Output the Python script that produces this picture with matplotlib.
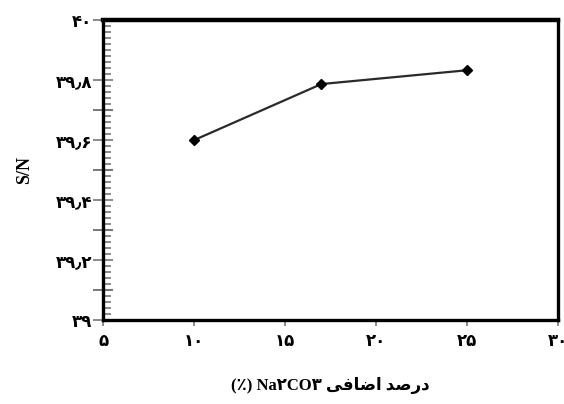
import matplotlib.pyplot as plt
from matplotlib.ticker import MultipleLocator

# data
na2co3 = [10, 17, 25]
sn = [39.6, 39.787, 39.833]

x_ticks = [5, 10, 15, 20, 25, 30]
x_labels = ['۵', '۱۰', '۱۵', '۲۰', '۲۵', '۳۰']
y_ticks = [39.0, 39.2, 39.4, 39.6, 39.8, 40.0]
y_labels = ['۳۹', '۳۹٫۲', '۳۹٫۴', '۳۹٫۶', '۳۹٫۸', '۴۰']

# Persian label, written in visual order with presentation forms
# (matplotlib does no Arabic shaping / bidi)
xlabel = '(٪) Na۲CO۳ ' + '\uFBFD\uFED3\uFE8E\uFEBF\uFE8D' + ' ' + '\uFEAA\uFEBB\uFEAD\uFEA9'

fonts = ['Liberation Serif', 'DejaVu Sans']
plt.rcParams['font.family'] = fonts

fig = plt.figure(figsize=(5.64, 4.04), dpi=100)
ax = fig.add_axes([0.183, 0.208, 0.806, 0.742])

ax.plot(na2co3, sn, color='#2a2a2a', linewidth=1.6, marker='D', markersize=5,
        markerfacecolor='black', markeredgecolor='black')

ax.set_xlim(5, 30)
ax.set_ylim(39, 40)
ax.set_xticks(x_ticks)
ax.set_xticklabels(x_labels, fontsize=12, fontweight='bold', family=['DejaVu Sans'])
ax.set_yticks(y_ticks)
ax.set_yticklabels(y_labels, fontsize=12, fontweight='bold', family=['DejaVu Sans'])
ax.yaxis.set_minor_locator(MultipleLocator(0.02))

ax.tick_params(axis='x', direction='out', length=4, width=1.2, color='#777777', pad=5)
ax.tick_params(axis='y', which='major', direction='inout', length=14, width=1.2,
               color='#777777', pad=1)
ax.tick_params(axis='y', which='minor', direction='in', length=6, width=1.2,
               color='#777777')

# unlabeled long ticks at the odd tenths
for yv in [39.1, 39.3, 39.5, 39.7]:
    ax.plot([5, 5], [yv, yv], marker=0, markersize=7, markeredgewidth=1.2,
            color='#777777', clip_on=False)
    ax.plot([5, 5], [yv, yv], marker=1, markersize=7, markeredgewidth=1.2,
            color='#777777', clip_on=False)

for s in ['left', 'bottom', 'right']:
    ax.spines[s].set_linewidth(2.4)
ax.spines['top'].set_linewidth(3.2)

ax.set_ylabel('S/N', fontsize=13, fontweight='bold', labelpad=16)
ax.set_xlabel(xlabel, fontsize=12, fontweight='bold', labelpad=19)

fig.savefig('out.png', dpi=100)
